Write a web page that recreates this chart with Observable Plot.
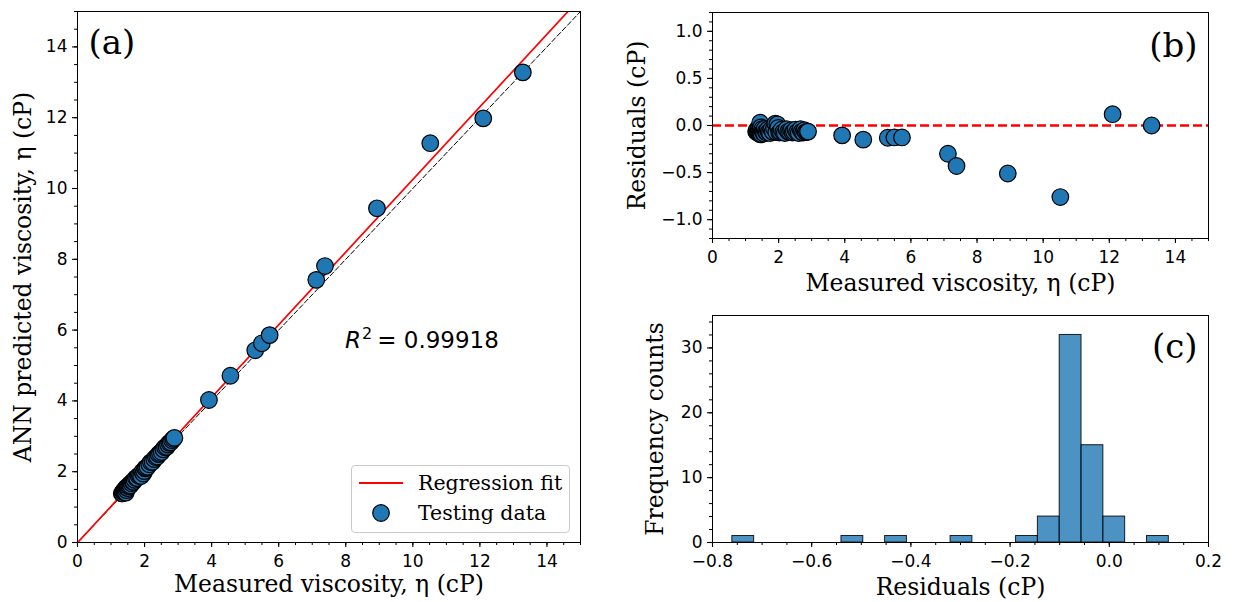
<!DOCTYPE html>
<html><head><meta charset="utf-8">
<script src="https://cdn.jsdelivr.net/npm/d3@7"></script>
<script src="https://cdn.jsdelivr.net/npm/@observablehq/plot@0.6"></script>
<style>
html,body{margin:0;padding:0;background:#fff;}
#fig{position:relative;width:1236px;height:602px;overflow:hidden;font-family:"DejaVu Sans";}
#fig > svg, #fig > div {position:absolute;}
</style></head><body><div id="fig"></div>
<script>
// Measured viscosity (cP) of the testing data
const measured = [1.32,1.34,1.36,1.38,1.40,1.41,1.42,1.44,1.45,1.46,1.47,1.48,1.50,1.52,1.54,1.56,1.58,1.61,1.64,1.67,
  1.70,1.74,1.78,1.82,1.86,1.90,1.93,1.96,1.99,2.02,2.05,2.09,2.14,2.19,2.24,2.29,2.34,2.38,2.42,2.46,
  2.51,2.56,2.61,2.66,2.70,2.74,2.78,2.82,2.86,2.89,
  3.92,4.56,5.30,5.50,5.73,7.12,7.38,8.93,10.52,12.10,13.28];
// Residuals = measured - predicted (cP)
const residuals = [-0.065,-0.045,-0.07,-0.08,-0.03,-0.065,-0.085,0.03,-0.095,-0.02,-0.075,-0.09,-0.04,-0.07,-0.06,-0.085,-0.035,-0.065,-0.075,-0.045,
  -0.07,-0.08,-0.04,-0.065,-0.03,0.02,-0.07,0.012,-0.025,-0.075,-0.065,-0.045,-0.07,-0.08,-0.04,-0.065,-0.07,-0.05,-0.075,-0.065,
  -0.045,-0.07,-0.08,-0.04,-0.065,-0.075,-0.05,-0.07,-0.065,-0.065,
  -0.105,-0.15,-0.13,-0.127,-0.127,-0.30,-0.43,-0.51,-0.76,0.12,0.0];
// Regression fit
const fitSlope = 1.026, fitIntercept = -0.005;
const r2Text = "0.99918";
const nBins = 20;
// Axis domains and ticks
const aDomain = [0, 15];
const aTicks = [0, 2, 4, 6, 8, 10, 12, 14];
const bYDomain = [-1.2, 1.2];
const bYTicks = [-1.0, -0.5, 0.0, 0.5, 1.0];
const cXDomain = [-0.8, 0.2];
const cXTicks = [-0.8, -0.6, -0.4, -0.2, 0.0, 0.2];
const cYDomain = [0, 35];
const cYTicks = [0, 10, 20, 30];

const points = measured.map((m, i) => ({m, r: residuals[i], p: m - residuals[i]}));
const diag = aDomain.map(v => ({x: v, y: v}));
const fitLine = aDomain.map(v => ({x: v, y: fitIntercept + fitSlope * v}));
const [rMin, rMax] = d3.extent(residuals);
const bw = (rMax - rMin) / nBins;
const thr = d3.range(1, nBins).map(i => rMin + i * bw);
const bins = d3.bin().domain([rMin, rMax]).thresholds(thr)(residuals).filter(b => b.length > 0);

const C0 = "#1f77b4";
const SANS = "DejaVu Sans", SERIF = "DejaVu Serif";
const fig = document.getElementById("fig");
const fmtInt = d3.format("d"), fmt1 = d3.format(".1f");

function axes(xt, xm, xf, yt, ym, yf) {
  const common = {fontSize: 17, fontFamily: SANS, label: null};
  return [
    Plot.axisX(xm, {...common, tickSize: 3, tickPadding: 8, tickFormat: () => "", strokeWidth: 1}),
    Plot.axisX(xt, {...common, tickSize: 5, tickPadding: 7, tickFormat: xf, strokeWidth: 1.1}),
    Plot.axisY(ym, {...common, tickSize: 3, tickPadding: 6, tickFormat: () => "", strokeWidth: 1}),
    Plot.axisY(yt, {...common, tickSize: 5, tickPadding: 5, tickFormat: yf, strokeWidth: 1.1}),
    Plot.frame({stroke: "black", strokeWidth: 1})
  ];
}
function xlabel(t, dy) {
  return Plot.text([t], {frameAnchor: "bottom", dy, textAnchor: "middle", lineAnchor: "middle", fontFamily: SERIF, fontSize: 23.5});
}
function ylabel(t, dx) {
  return Plot.text([t], {frameAnchor: "left", dx, rotate: -90, textAnchor: "middle", lineAnchor: "middle", fontFamily: SERIF, fontSize: 23.5});
}
function tag(t, anchor, dx, dy) {
  return Plot.text([t], {frameAnchor: anchor, dx, dy, textAnchor: anchor.endsWith("left") ? "start" : "end", lineAnchor: "middle", fontFamily: SERIF, fontSize: 34});
}
const style = {color: "black", background: "transparent", overflow: "visible"};

// Panel (a)
const pa = Plot.plot({
  width: 600, height: 602, marginLeft: 77, marginRight: 20, marginTop: 11, marginBottom: 60,
  style,
  x: {domain: aDomain}, y: {domain: aDomain},
  marks: [
    Plot.line(diag, {x: "x", y: "y", stroke: "black", strokeWidth: 1, strokeDasharray: "5,2.5", clip: true}),
    Plot.line(fitLine, {x: "x", y: "y", stroke: "red", strokeWidth: 1.7, clip: true}),
    Plot.dot(points, {x: "m", y: "p", r: 8.3, fill: C0, stroke: "black", strokeWidth: 1.2}),
    ...axes(aTicks, d3.range(0, 15.01, 0.5), fmtInt, aTicks, d3.range(0, 15.01, 0.5), fmtInt),
    xlabel("Measured viscosity, η (cP)", 42),
    ylabel("ANN predicted viscosity, η (cP)", -54),
    tag("(a)", "top-left", 11, 32)
  ]
});
pa.style.left = "0px"; pa.style.top = "0px";
fig.appendChild(pa);

// Panel (b)
const pb = Plot.plot({
  width: 636, height: 300, marginLeft: 112, marginRight: 28, marginTop: 12, marginBottom: 62,
  style,
  x: {domain: aDomain}, y: {domain: bYDomain},
  marks: [
    Plot.ruleY([0], {stroke: "red", strokeWidth: 2.5, strokeDasharray: "9,4"}),
    Plot.dot(points, {x: "m", y: "r", r: 8.3, fill: C0, stroke: "black", strokeWidth: 1.2}),
    ...axes(aTicks, d3.range(0, 15.01, 0.5), fmtInt, bYTicks, d3.range(-12, 12.01, 1).map(v => v / 10), fmt1),
    xlabel("Measured viscosity, η (cP)", 45),
    ylabel("Residuals (cP)", -75),
    tag("(b)", "top-right", -11, 34)
  ]
});
pb.style.left = "600px"; pb.style.top = "0px";
fig.appendChild(pb);

// Panel (c)
const pc = Plot.plot({
  width: 636, height: 302, marginLeft: 112, marginRight: 28, marginTop: 15, marginBottom: 60,
  style,
  x: {domain: cXDomain}, y: {domain: cYDomain},
  marks: [
    Plot.rectY(bins, {x1: "x0", x2: "x1", y: d => d.length, fill: C0, fillOpacity: 0.8, stroke: "black", strokeOpacity: 0.85, strokeWidth: 1, inset: 0}),
    ...axes(cXTicks, d3.range(-16, 4.01, 1).map(v => v / 20), fmt1, cYTicks, d3.range(0, 35.01, 2), fmtInt),
    xlabel("Residuals (cP)", 45),
    ylabel("Frequency counts", -57),
    tag("(c)", "top-right", -11, 32)
  ]
});
pc.style.left = "600px"; pc.style.top = "300px";
fig.appendChild(pc);

// R² annotation
const r2 = document.createElement("div");
r2.style.cssText = "left:345px;top:327px;font:23px 'DejaVu Sans';line-height:26px;white-space:nowrap;color:#000;";
r2.innerHTML = "<i>R</i><span style='font-size:16px;position:relative;top:-9px;margin-left:1px'>2</span><span style='margin-left:5px'>= " + r2Text + "</span>";
fig.appendChild(r2);

// Legend
const lg = document.createElement("div");
lg.style.cssText = "left:351px;top:465px;width:217px;height:66px;border:1px solid #ccc;border-radius:4px;background:rgba(255,255,255,0.8);";
lg.innerHTML = `<svg width="217" height="66" style="display:block">
<line x1="7" x2="51" y1="17" y2="17" stroke="red" stroke-width="1.8"/>
<circle cx="29" cy="47" r="8.3" fill="${C0}" stroke="black" stroke-width="1.2"/>
<text x="66" y="17" dy="0.35em" font-family="${SERIF}" font-size="20.5">Regression fit</text>
<text x="66" y="47" dy="0.35em" font-family="${SERIF}" font-size="20.5">Testing data</text>
</svg>`;
fig.appendChild(lg);
</script>
</body></html>
